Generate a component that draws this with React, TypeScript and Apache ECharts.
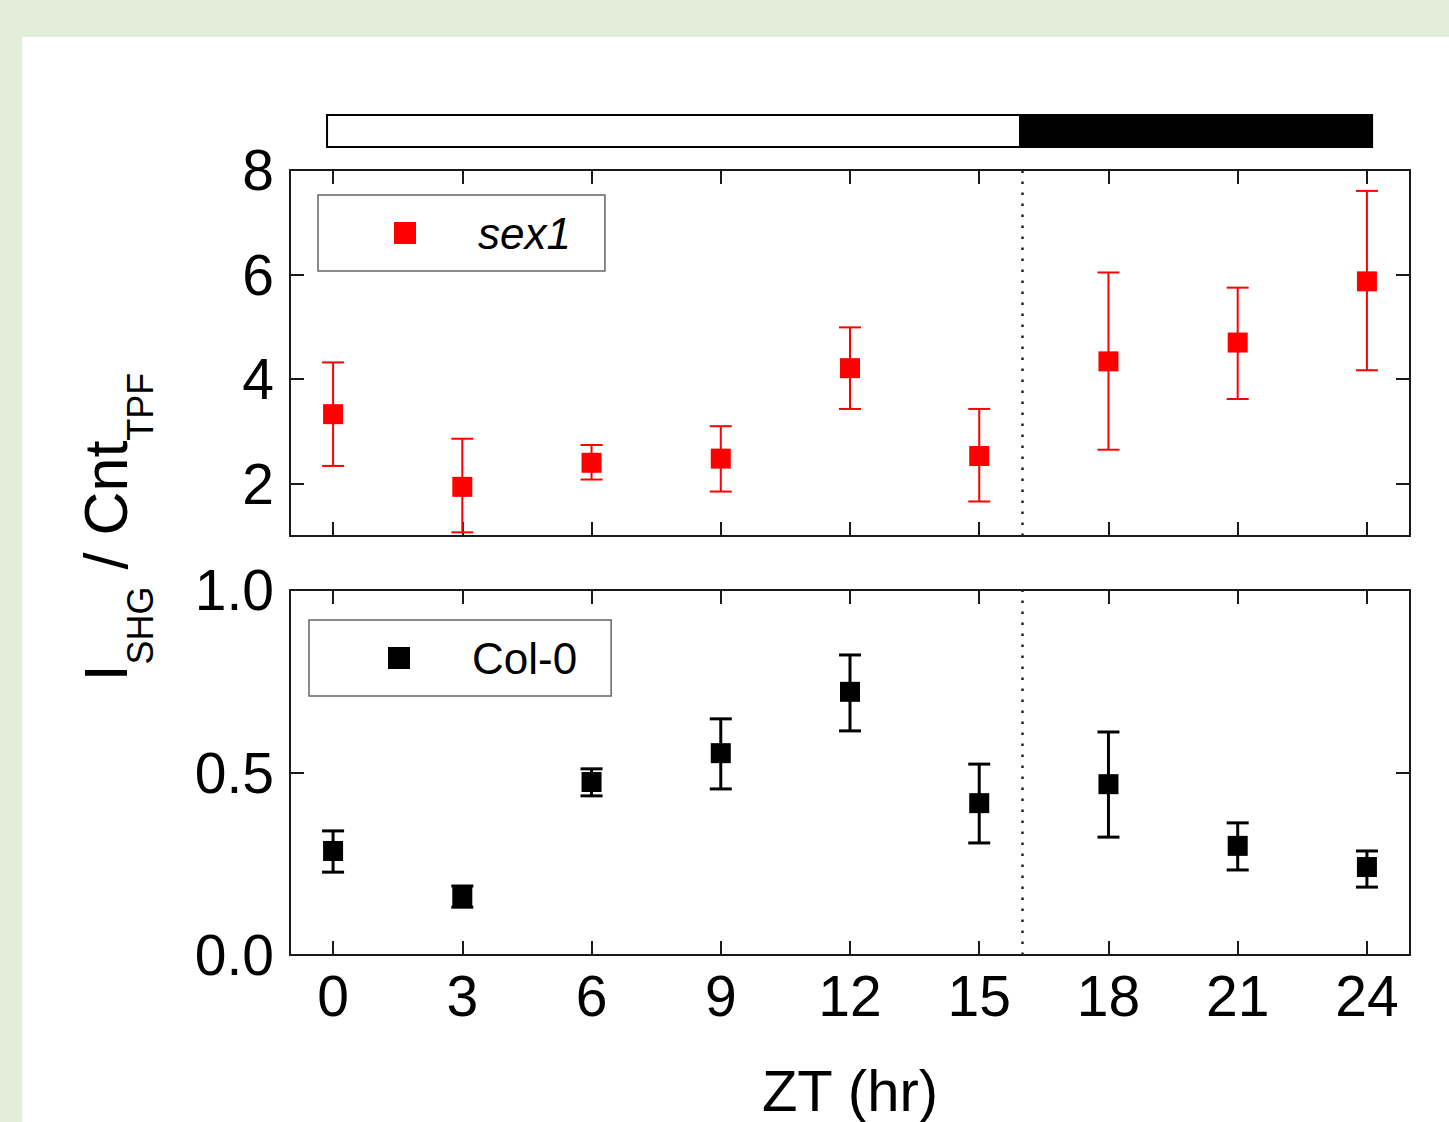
import React, { useEffect, useRef } from 'react';
import * as echarts from 'echarts';

// ---- data ----
const ztHours = [0, 3, 6, 9, 12, 15, 18, 21, 24];
const sex1Mean = [3.33, 1.94, 2.4, 2.48, 4.21, 2.53, 4.34, 4.7, 5.87];
const sex1Low = [2.34, 1.07, 2.08, 1.85, 3.43, 1.66, 2.65, 3.62, 4.17];
const sex1High = [4.32, 2.86, 2.74, 3.1, 4.99, 3.43, 6.04, 5.75, 7.6];
const col0Mean = [0.285, 0.159, 0.474, 0.553, 0.721, 0.416, 0.468, 0.299, 0.241];
const col0Low = [0.227, 0.131, 0.436, 0.455, 0.614, 0.307, 0.323, 0.233, 0.186];
const col0High = [0.34, 0.189, 0.51, 0.647, 0.822, 0.523, 0.611, 0.362, 0.285];
const xTicks = [0, 3, 6, 9, 12, 15, 18, 21, 24];
const topYTicks = [2, 4, 6, 8];
const bottomYTicks = [0, 0.5, 1.0];
const photoStart = [-0.14, 15.95];
const photoEnd = [15.95, 24.12];
const photoDark = [0, 1];
const darkOnset = 16;

const FONT = 'Arial, "Liberation Sans", Helvetica, sans-serif';
const AXIS_COLOR = '#1a1a1a';

function errorBarItem(color: string, width: number) {
  return (params: any, api: any) => {
    const x = api.value(0);
    const lo = api.coord([x, api.value(1)]);
    const hi = api.coord([x, api.value(2)]);
    const half = 11;
    const style = { stroke: color, lineWidth: width };
    return {
      type: 'group',
      children: [
        { type: 'line', shape: { x1: lo[0], y1: lo[1], x2: hi[0], y2: hi[1] }, style },
        { type: 'line', shape: { x1: hi[0] - half, y1: hi[1], x2: hi[0] + half, y2: hi[1] }, style },
        { type: 'line', shape: { x1: lo[0] - half, y1: lo[1], x2: lo[0] + half, y2: lo[1] }, style },
      ],
    };
  };
}

function xAxisCfg(gridIndex: number, position: 'top' | 'bottom', showLabels: boolean, extra: any = {}) {
  return {
    type: 'value',
    gridIndex,
    position,
    min: -1,
    max: 25,
    axisLine: { show: true, onZero: false, lineStyle: { color: AXIS_COLOR, width: 2 } },
    axisTick: { show: true, inside: true, length: 14, customValues: xTicks, lineStyle: { color: AXIS_COLOR, width: 2 } },
    axisLabel: {
      show: showLabels,
      customValues: xTicks,
      fontSize: 57,
      fontFamily: FONT,
      color: '#000',
      margin: 12,
    },
    splitLine: { show: false },
    ...extra,
  };
}

function yAxisCfg(gridIndex: number, position: 'left' | 'right', showLabels: boolean, min: number, max: number, ticks: number[], fmt?: (v: number) => string) {
  return {
    type: 'value',
    gridIndex,
    position,
    min,
    max,
    axisLine: { show: true, onZero: false, lineStyle: { color: AXIS_COLOR, width: 2 } },
    axisTick: { show: true, inside: true, length: 14, customValues: ticks, lineStyle: { color: AXIS_COLOR, width: 2 } },
    axisLabel: {
      show: showLabels,
      customValues: ticks,
      fontSize: 57,
      fontFamily: FONT,
      color: '#000',
      margin: 16,
      padding: [0, 0, 9, 0],
      formatter: fmt,
    },
    splitLine: { show: false },
  };
}

export default function App() {
  const ref = useRef<HTMLDivElement>(null);

  useEffect(() => {
    if (!ref.current) return;
    const chart = echarts.init(ref.current, undefined, { renderer: 'svg' });

    const sexErr = ztHours.map((x, i) => [x, sex1Low[i], sex1High[i]]);
    const colErr = ztHours.map((x, i) => [x, col0Low[i], col0High[i]]);
    const photo = photoStart.map((s, i) => [s, photoEnd[i], photoDark[i]]);

    const dotted = {
      silent: true,
      symbol: ['none', 'none'],
      label: { show: false },
      lineStyle: { type: [2.5, 8.5], color: '#222', width: 2.5 },
      data: [{ xAxis: darkOnset }],
    };

    const legendCommon = {
      orient: 'horizontal',
      selectedMode: false,
      icon: 'rect',
      itemWidth: 22,
      itemHeight: 22,
      borderColor: '#666',
      borderWidth: 1.5,
      backgroundColor: '#fff',
    };

    chart.setOption({
      animation: false,
      backgroundColor: 'transparent',
      grid: [
        { left: 290, top: 170, width: 1120, height: 366 },
        { left: 290, top: 590, width: 1120, height: 365 },
      ],
      xAxis: [
        xAxisCfg(0, 'bottom', false),
        xAxisCfg(0, 'top', false),
        xAxisCfg(1, 'bottom', true, {
          name: 'ZT (hr)',
          nameLocation: 'middle',
          nameGap: 106,
          nameTextStyle: { fontSize: 58, fontFamily: FONT, color: '#000' },
        }),
        xAxisCfg(1, 'top', false),
      ],
      yAxis: [
        yAxisCfg(0, 'left', true, 1, 8, topYTicks),
        yAxisCfg(0, 'right', false, 1, 8, topYTicks),
        yAxisCfg(1, 'left', true, 0, 1, bottomYTicks, (v: number) => v.toFixed(1)),
        yAxisCfg(1, 'right', false, 0, 1, bottomYTicks),
      ],
      legend: [
        {
          ...legendCommon,
          left: 318,
          top: 195,
          padding: [13, 34, 13, 76],
          data: [{ name: 'sex1' }],
          textStyle: {
            fontSize: 44,
            fontStyle: 'italic',
            fontFamily: FONT,
            color: '#000',
            lineHeight: 50,
            padding: [0, 0, 0, 57],
          },
        },
        {
          ...legendCommon,
          left: 309,
          top: 620,
          padding: [13, 34, 13, 79],
          data: [{ name: 'Col-0' }],
          textStyle: {
            fontSize: 44,
            fontFamily: FONT,
            color: '#000',
            lineHeight: 50,
            padding: [0, 0, 0, 57],
          },
        },
      ],
      graphic: [
        {
          type: 'text',
          x: 106,
          y: 527,
          rotation: Math.PI / 2,
          style: {
            text: '{m|I}{s|SHG}{m| / Cnt}{s|TPF}',
            align: 'center',
            verticalAlign: 'middle',
            rich: {
              m: { fontSize: 61, fontFamily: FONT, fill: '#000', lineHeight: 61, verticalAlign: 'top' },
              s: { fontSize: 36, fontFamily: FONT, fill: '#000', lineHeight: 36, verticalAlign: 'top', padding: [47, 0, 0, 0] },
            },
          },
        },
      ],
      series: [
        {
          type: 'custom',
          name: 'photoperiod',
          xAxisIndex: 0,
          yAxisIndex: 0,
          clip: false,
          silent: true,
          data: photo,
          renderItem: (params: any, api: any) => {
            const p0 = api.coord([api.value(0), 8]);
            const p1 = api.coord([api.value(1), 8]);
            const dark = api.value(2) === 1;
            return {
              type: 'rect',
              shape: { x: p0[0], y: p0[1] - 55, width: p1[0] - p0[0], height: 32 },
              style: { fill: dark ? '#000' : '#fff', stroke: '#000', lineWidth: 2 },
            };
          },
        },
        {
          type: 'custom',
          name: 'sex1 error',
          xAxisIndex: 0,
          yAxisIndex: 0,
          silent: true,
          clip: false,
          data: sexErr,
          renderItem: errorBarItem('#ff0000', 2),
          z: 3,
        },
        {
          type: 'scatter',
          name: 'sex1',
          xAxisIndex: 0,
          yAxisIndex: 0,
          symbol: 'rect',
          symbolSize: 20,
          itemStyle: { color: '#ff0000', opacity: 1 },
          data: ztHours.map((x, i) => [x, sex1Mean[i]]),
          markLine: dotted,
          z: 4,
        },
        {
          type: 'custom',
          name: 'Col-0 error',
          xAxisIndex: 2,
          yAxisIndex: 2,
          silent: true,
          clip: false,
          data: colErr,
          renderItem: errorBarItem('#000', 3),
          z: 3,
        },
        {
          type: 'scatter',
          name: 'Col-0',
          xAxisIndex: 2,
          yAxisIndex: 2,
          symbol: 'rect',
          symbolSize: 20,
          itemStyle: { color: '#000', opacity: 1 },
          data: ztHours.map((x, i) => [x, col0Mean[i]]),
          markLine: dotted,
          z: 4,
        },
      ],
    });

    return () => chart.dispose();
  }, []);

  return (
    <div style={{ position: 'absolute', left: 0, top: 0, width: 1449, height: 1122, background: '#e2eed9', overflow: 'hidden' }}>
      <div style={{ position: 'absolute', left: 22, top: 37, width: 1427, height: 1085, background: '#fff' }} />
      <div ref={ref} style={{ position: 'absolute', left: 0, top: 0, width: 1449, height: 1122 }} />
    </div>
  );
}
